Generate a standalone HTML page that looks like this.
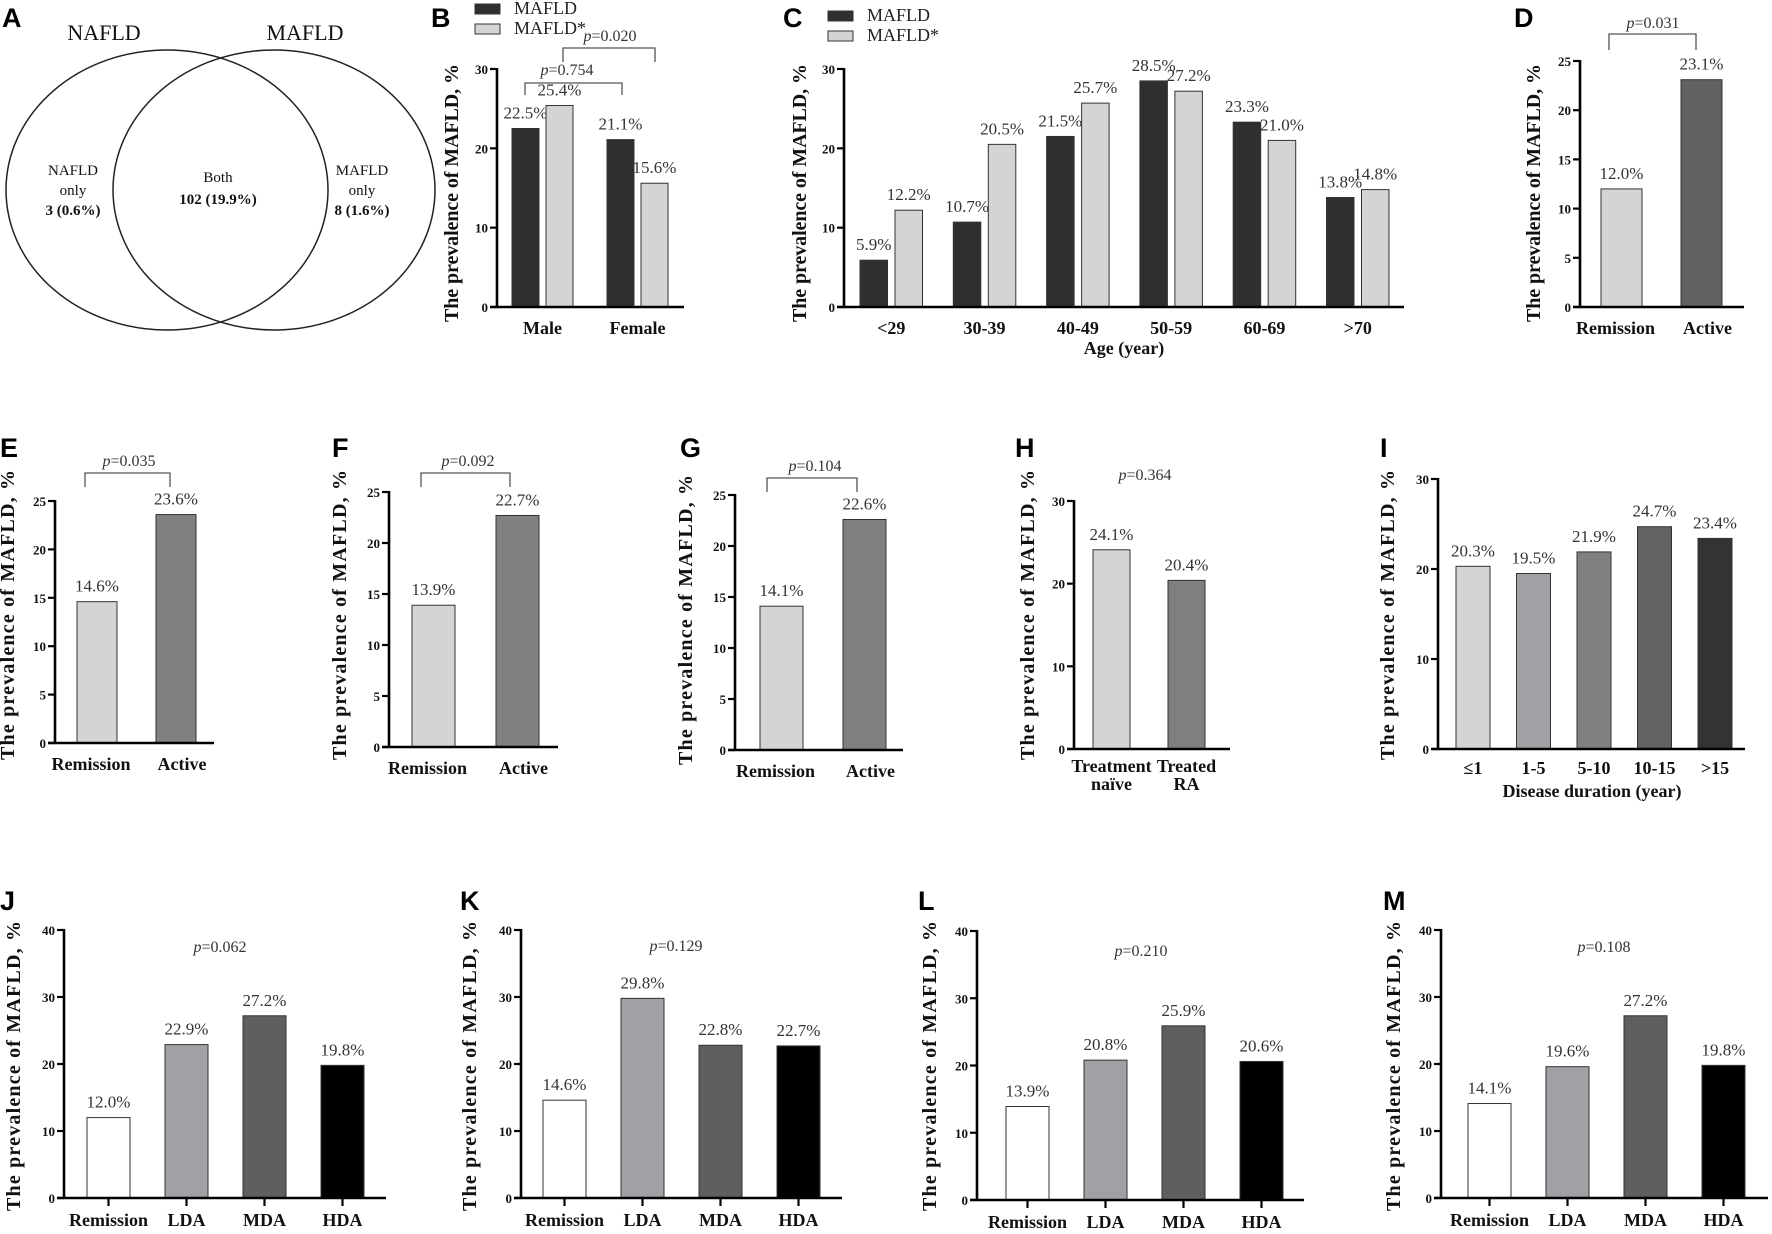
<!DOCTYPE html>
<html><head><meta charset="utf-8">
<style>
html,body{margin:0;padding:0;background:#fff;}
svg{display:block;}
.val{font-family:"Liberation Serif",serif;font-size:17px;fill:#333;text-anchor:middle;}
.tick{font-family:"Liberation Serif",serif;font-size:13px;font-weight:bold;fill:#111;text-anchor:end;}
.xl{font-family:"Liberation Serif",serif;font-size:18px;font-weight:bold;fill:#111;text-anchor:middle;}
.yt{font-family:"Liberation Serif",serif;font-size:20px;font-weight:bold;fill:#111;text-anchor:middle;}
.let{font-family:"Liberation Sans",sans-serif;font-size:27px;font-weight:bold;fill:#000;}
.pv{font-family:"Liberation Serif",serif;font-size:16px;fill:#333;text-anchor:middle;}
.leg{font-family:"Liberation Serif",serif;font-size:18px;fill:#222;}
.venn{font-family:"Liberation Serif",serif;fill:#111;text-anchor:middle;}
</style></head>
<body>
<svg id="fig" width="1772" height="1234" viewBox="0 0 1772 1234" xmlns="http://www.w3.org/2000/svg">
<g>
<text class="let" x="2" y="27">A</text>
<ellipse cx="167" cy="190" rx="161" ry="140" fill="none" stroke="#222" stroke-width="1.5"/>
<ellipse cx="274" cy="190" rx="161" ry="140" fill="none" stroke="#222" stroke-width="1.5"/>
<text class="venn" x="104" y="40" font-size="22">NAFLD</text>
<text class="venn" x="305" y="40" font-size="22">MAFLD</text>
<text class="venn" x="73" y="175" font-size="15">NAFLD</text>
<text class="venn" x="73" y="195" font-size="15">only</text>
<text class="venn" x="73" y="215" font-size="15" font-weight="bold">3 (0.6%)</text>
<text class="venn" x="218" y="182" font-size="15">Both</text>
<text class="venn" x="218" y="204" font-size="15" font-weight="bold">102 (19.9%)</text>
<text class="venn" x="362" y="175" font-size="15">MAFLD</text>
<text class="venn" x="362" y="195" font-size="15">only</text>
<text class="venn" x="362" y="215" font-size="15" font-weight="bold">8 (1.6%)</text>
</g>
</svg>
<script>
const NS="http://www.w3.org/2000/svg";
const svg=document.getElementById('fig');

// ---- data ----
const bCats=['Male','Female'];
const bMafld=[22.5,21.1];
const bMafldStar=[25.4,15.6];
const cCats=['<29','30-39','40-49','50-59','60-69','>70'];
const cMafld=[5.9,10.7,21.5,28.5,23.3,13.8];
const cMafldStar=[12.2,20.5,25.7,27.2,21.0,14.8];
const remActCats=['Remission','Active'];
const dVals=[12.0,23.1];
const eVals=[14.6,23.6];
const fVals=[13.9,22.7];
const gVals=[14.1,22.6];
const hCats=['Treatment|naïve','Treated|RA'];
const hVals=[24.1,20.4];
const iCats=['≤1','1-5','5-10','10-15','>15'];
const iVals=[20.3,19.5,21.9,24.7,23.4];
const daCats=['Remission','LDA','MDA','HDA'];
const jVals=[12.0,22.9,27.2,19.8];
const kVals=[14.6,29.8,22.8,22.7];
const lVals=[13.9,20.8,25.9,20.6];
const mVals=[14.1,19.6,27.2,19.8];
const ticks30=[0,10,20,30];
const ticks25=[0,5,10,15,20,25];
const ticks40=[0,10,20,30,40];
const pTexts={b1:'0.754',b2:'0.020',d:'0.031',e:'0.035',f:'0.092',g:'0.104',h:'0.364',j:'0.062',k:'0.129',l:'0.210',m:'0.108'};

function mk(tag,attrs,parent){const el=document.createElementNS(NS,tag);for(const k in attrs)el.setAttribute(k,attrs[k]);(parent||svg).appendChild(el);return el;}

function pText(g,x,y,val){
  const t=mk('text',{class:'pv',x:x,y:y},g);
  
  
  const s=mk('tspan',{'font-style':'italic'},t);s.textContent='p';
  const s2=mk('tspan',{},t);s2.textContent='='+val;
}
function bracket(g,x1,x2,yTop,yBot){
  const p=mk('path',{d:`M${x1},${yBot} V${yTop} H${x2} V${yBot}`,fill:'none',stroke:'#555','stroke-width':1.3},g);
  
  
}

function panel(p){
  const g=mk('g',{});
  
  
  const yS=v=>p.y0-(v/p.max)*(p.y0-p.yTop);
  const xS=i=>p.bx0+i*p.step;
  // letter
  const L=mk('text',{class:'let',x:p.lx,y:p.ly},g);L.textContent=p.id.toUpperCase();
  
  
  // y title
  const yt=mk('text',{class:'yt',x:0,y:0,transform:`translate(${p.tx},${p.tcy}) rotate(-90)`,textLength:p.tlen,lengthAdjust:'spacing'},g);
  yt.textContent='The prevalence of  MAFLD, %';
  
  
  // bars
  const groupW=p.series.length>1?(p.series[p.series.length-1].off+p.bw):p.bw;
  p.series.forEach((s,si)=>{
    s.vals.forEach((v,i)=>{
      const x=xS(i)+s.off;
      const r=mk('rect',{x:x,y:yS(v),width:p.bw,height:p.y0-yS(v),fill:s.colors?s.colors[i]:s.color,stroke:'#333','stroke-width':1},g);
      
      
      const t=mk('text',{class:'val',x:x+p.bw/2,y:yS(v)-10},g);
      t.textContent=v.toFixed(1)+'%';
      
      
    });
  });
  // axes
  const ya=mk('line',{x1:p.ax,y1:p.yTop-1,x2:p.ax,y2:p.y0,stroke:'#000','stroke-width':2.6},g);
  
  
  const xa=mk('line',{x1:p.ax-7,y1:p.y0,x2:p.xEnd,y2:p.y0,stroke:'#000','stroke-width':2.6},g);
  
  
  p.ticks.forEach(tv=>{
    const tl=mk('line',{x1:p.ax-7,y1:yS(tv),x2:p.ax,y2:yS(tv),stroke:'#000','stroke-width':2.2},g);
    
    
    const tt=mk('text',{class:'tick',x:p.ax-9,y:yS(tv)+5},g);tt.textContent=tv;
    
    
  });
  p.cats.forEach((c,i)=>{
    const cx=xS(i)+groupW/2;
    if(p.xticks){
      const xt=mk('line',{x1:cx,y1:p.y0,x2:cx,y2:p.y0+8,stroke:'#000','stroke-width':2.2},g);
      
      
    }
    const lines=c.split('|');
    lines.forEach((ln,li)=>{
      const t=mk('text',{class:'xl',x:cx+(p.xlShift?p.xlShift[i]:0),y:p.xly+li*18,'font-size':p.xlSize||18},g);
      t.textContent=ln;
      
      
    });
  });
  return g;
}

const gray='#d4d4d4';
// Row 1
const gB=panel({id:'b',ax:497,y0:307,yTop:69,max:30,ticks:ticks30,bx0:512,step:95,bw:27,xEnd:684,cats:bCats,xly:334,
  series:[{name:'mafld',vals:bMafld,off:0,color:'#2f2f2f'},{name:'mafld-star',vals:bMafldStar,off:34,color:gray}],
  lx:431,ly:27,tx:458,tcy:193,tlen:258});
const gC=panel({id:'c',ax:844,y0:307,yTop:69,max:30,ticks:ticks30,bx0:860,step:93.3,bw:27.5,xEnd:1404,cats:cCats,xly:334,
  series:[{name:'mafld',vals:cMafld,off:0,color:'#2f2f2f'},{name:'mafld-star',vals:cMafldStar,off:35,color:gray}],
  lx:783,ly:27,tx:806,tcy:193,tlen:258});
const gD=panel({id:'d',ax:1580,y0:307,yTop:61,max:25,ticks:ticks25,bx0:1601,step:80,bw:41,xEnd:1744,cats:remActCats,xly:334,
  series:[{name:'mafld',vals:dVals,off:0,colors:[gray,'#616161']}],xlShift:[-6,6],
  lx:1514,ly:27,tx:1540,tcy:193,tlen:258});
// Row 2
const gE=panel({id:'e',ax:55,y0:743,yTop:501,max:25,ticks:ticks25,bx0:77,step:79,bw:40,xEnd:214,cats:remActCats,xly:770,
  series:[{name:'mafld',vals:eVals,off:0,colors:[gray,'#808080']}],xlShift:[-6,6],
  lx:0,ly:457,tx:14,tcy:615,tlen:290});
const gF=panel({id:'f',ax:389,y0:747,yTop:492,max:25,ticks:ticks25,bx0:412,step:84,bw:43,xEnd:558,cats:remActCats,xly:774,
  series:[{name:'mafld',vals:fVals,off:0,colors:[gray,'#808080']}],xlShift:[-6,6],
  lx:332,ly:457,tx:346,tcy:615,tlen:290});
const gG=panel({id:'g',ax:735,y0:750,yTop:495,max:25,ticks:ticks25,bx0:760,step:83,bw:43,xEnd:903,cats:remActCats,xly:777,
  series:[{name:'mafld',vals:gVals,off:0,colors:[gray,'#808080']}],xlShift:[-6,6],
  lx:680,ly:457,tx:692,tcy:620,tlen:290});
const gH=panel({id:'h',ax:1074,y0:749,yTop:501,max:30,ticks:ticks30,bx0:1093,step:75,bw:37,xEnd:1230,cats:hCats,xly:772,xlSize:16,
  series:[{name:'mafld',vals:hVals,off:0,colors:[gray,'#7f7f7f']}],
  lx:1015,ly:457,tx:1034,tcy:615,tlen:290});
const gI=panel({id:'i',ax:1438,y0:749,yTop:479,max:30,ticks:ticks30,bx0:1456,step:60.5,bw:34,xEnd:1745,cats:iCats,xly:774,
  series:[{name:'mafld',vals:iVals,off:0,colors:[gray,'#a0a0a5','#808080','#636363','#333333']}],
  lx:1380,ly:457,tx:1394,tcy:615,tlen:290});
// Row 3
const gJ=panel({id:'j',ax:64,y0:1198,yTop:930,max:40,ticks:ticks40,bx0:87,step:78,bw:43,xEnd:386,cats:daCats,xly:1226,xticks:true,xlSize:17,
  series:[{name:'mafld',vals:jVals,off:0,colors:['#ffffff','#a0a0a5','#5f5f5f','#000000']}],
  lx:0,ly:910,tx:20,tcy:1066,tlen:290});
const gK=panel({id:'k',ax:521,y0:1198,yTop:930,max:40,ticks:ticks40,bx0:543,step:78,bw:43,xEnd:842,cats:daCats,xly:1226,xticks:true,xlSize:17,
  series:[{name:'mafld',vals:kVals,off:0,colors:['#ffffff','#a0a0a5','#5f5f5f','#000000']}],
  lx:460,ly:910,tx:476,tcy:1066,tlen:290});
const gL=panel({id:'l',ax:977,y0:1200,yTop:931,max:40,ticks:ticks40,bx0:1006,step:78,bw:43,xEnd:1304,cats:daCats,xly:1228,xticks:true,xlSize:17,
  series:[{name:'mafld',vals:lVals,off:0,colors:['#ffffff','#a0a0a5','#5f5f5f','#000000']}],
  lx:918,ly:910,tx:936,tcy:1066,tlen:290});
const gM=panel({id:'m',ax:1441,y0:1198,yTop:930,max:40,ticks:ticks40,bx0:1468,step:78,bw:43,xEnd:1768,cats:daCats,xly:1226,xticks:true,xlSize:17,
  series:[{name:'mafld',vals:mVals,off:0,colors:['#ffffff','#a0a0a5','#5f5f5f','#000000']}],
  lx:1383,ly:910,tx:1400,tcy:1066,tlen:290});

// legends
function legend(g,x,y,color,label){
  const r=mk('rect',{x:x,y:y,width:25,height:10,fill:color,stroke:'#333','stroke-width':1},g);
  
  
  const t=mk('text',{class:'leg',x:x+39,y:y+10},g);t.textContent=label;
  
  
}
legend(gB,475,4,'#2f2f2f','MAFLD');
legend(gB,475,24,gray,'MAFLD*');
legend(gC,828,11,'#2f2f2f','MAFLD');
legend(gC,828,31,gray,'MAFLD*');

// age axis title
const at=mk('text',{class:'xl',x:1124,y:354},gC);at.textContent='Age (year)';


const it=mk('text',{class:'xl',x:1592,y:797},gI);it.textContent='Disease duration (year)';



// p-values and brackets
bracket(gB,525,622,83,95);pText(gB,567,75,pTexts.b1);
bracket(gB,563,655,48,62);pText(gB,610,41,pTexts.b2);
bracket(gD,1609,1696,34,50);pText(gD,1653,28,pTexts.d);
bracket(gE,85,170,473,487);pText(gE,129,466,pTexts.e);
bracket(gF,421,510,473,487);pText(gF,468,466,pTexts.f);
bracket(gG,767,857,478,492);pText(gG,815,471,pTexts.g);
pText(gH,1145,480,pTexts.h);
pText(gJ,220,952,pTexts.j);
pText(gK,676,951,pTexts.k);
pText(gL,1141,956,pTexts.l);
pText(gM,1604,952,pTexts.m);
</script>
</body></html>
